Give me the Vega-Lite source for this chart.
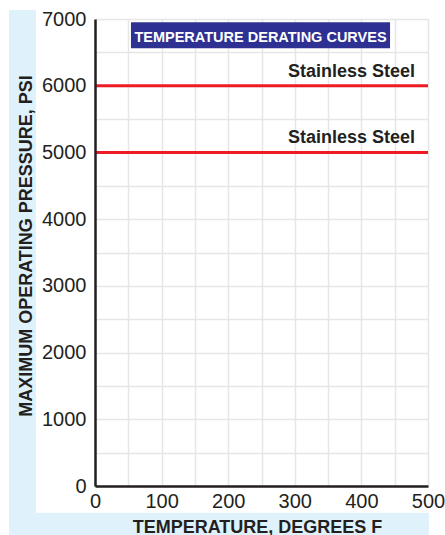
{
  "$schema": "https://vega.github.io/schema/vega-lite/v6.json",
  "width": 333,
  "height": 467,
  "autosize": "none",
  "padding": {"left": 95, "top": 19, "right": 17, "bottom": 49},
  "background": "white",
  "config": {
    "view": {"stroke": null},
    "font": "Liberation Sans",
    "axis": {
      "gridColor": "#e6e6e6", "gridWidth": 1.5,
      "ticks": false,
      "domainColor": "#231f20", "domainWidth": 2.5,
      "labelFontSize": 20, "labelColor": "#231f20",
      "labelFlush": false, "labelOverlap": false,
      "titleFontSize": 18, "titleFontWeight": "bold", "titleColor": "#231f20"
    }
  },
  "resolve": {"axis": {"x": "independent", "y": "independent"}},
  "layer": [
    {
      "data": {"values": [{}]},
      "mark": {"type": "rect", "color": "#dff2fb", "clip": false},
      "encoding": {
        "x": {"datum": -129.1, "type": "quantitative", "scale": {"domain": [0, 500], "nice": false, "zero": false},
          "axis": {"orient": "top", "zindex": 0, "grid": true, "labels": false, "domain": false, "ticks": false, "title": null, "values": [0, 50, 100, 150, 200, 250, 300, 350, 400, 450, 500]}},
        "x2": {"datum": -88.6},
        "y": {"datum": 7135, "type": "quantitative", "scale": {"domain": [0, 7000], "nice": false, "zero": false},
          "axis": {"orient": "right", "zindex": 0, "grid": true, "labels": false, "domain": false, "ticks": false, "title": null, "values": [0, 500, 1000, 1500, 2000, 2500, 3000, 3500, 4000, 4500, 5000, 5500, 6000, 6500, 7000]}},
        "y2": {"datum": -735}
      }
    },
    {
      "data": {"values": [{}]},
      "mark": {"type": "rect", "color": "#dff2fb", "clip": false},
      "encoding": {
        "x": {"datum": -129.1, "type": "quantitative", "scale": {"domain": [0, 500], "nice": false, "zero": false}, "axis": null},
        "x2": {"datum": 501.5},
        "y": {"datum": -400, "type": "quantitative", "scale": {"domain": [0, 7000], "nice": false, "zero": false}, "axis": null},
        "y2": {"datum": -735}
      }
    },
    {
      "data": {"values": [{}]},
      "mark": {"type": "rect", "color": "#2e3192"},
      "encoding": {
        "x": {"datum": 54, "type": "quantitative", "scale": {"domain": [0, 500], "nice": false, "zero": false}, "axis": null},
        "x2": {"datum": 443},
        "y": {"datum": 6950, "type": "quantitative", "scale": {"domain": [0, 7000], "nice": false, "zero": false}, "axis": null},
        "y2": {"datum": 6561}
      }
    },
    {
      "data": {"values": [{"title": "TEMPERATURE DERATING CURVES"}]},
      "mark": {"type": "text", "align": "center", "baseline": "alphabetic", "fontSize": 14.5, "fontWeight": "bold", "color": "white"},
      "encoding": {
        "x": {"datum": 248.5, "type": "quantitative", "scale": {"domain": [0, 500], "nice": false, "zero": false}, "axis": null},
        "y": {"datum": 6660, "type": "quantitative", "scale": {"domain": [0, 7000], "nice": false, "zero": false}, "axis": null},
        "text": {"field": "title"}
      }
    },
    {
      "data": {"values": [
        {"temp": 500, "psi": 6000, "label": "Stainless Steel"},
        {"temp": 500, "psi": 5000, "label": "Stainless Steel"}
      ]},
      "mark": {"type": "text", "align": "right", "baseline": "alphabetic", "dx": -13, "dy": -9, "fontSize": 18, "fontWeight": "bold", "color": "#231f20"},
      "encoding": {
        "x": {"field": "temp", "type": "quantitative", "scale": {"domain": [0, 500], "nice": false, "zero": false}, "axis": null},
        "y": {"field": "psi", "type": "quantitative", "scale": {"domain": [0, 7000], "nice": false, "zero": false}, "axis": null},
        "text": {"field": "label"}
      }
    },
    {
      "data": {"values": [
        {"temp": 0, "psi": 6000, "series": "upper"},
        {"temp": 500, "psi": 6000, "series": "upper"},
        {"temp": 0, "psi": 5000, "series": "lower"},
        {"temp": 500, "psi": 5000, "series": "lower"}
      ]},
      "mark": {"type": "line", "color": "#ed1c24", "strokeWidth": 3},
      "encoding": {
        "x": {"field": "temp", "type": "quantitative", "scale": {"domain": [0, 500], "nice": false, "zero": false},
          "axis": {"orient": "bottom", "zindex": 1, "grid": false, "title": "TEMPERATURE, DEGREES F", "values": [0, 100, 200, 300, 400, 500], "format": "d", "labelPadding": 5, "titleX": 162, "titleY": 46, "titleBaseline": "alphabetic"}},
        "y": {"field": "psi", "type": "quantitative", "scale": {"domain": [0, 7000], "nice": false, "zero": false},
          "axis": {"orient": "left", "zindex": 1, "grid": false, "title": "MAXIMUM OPERATING PRESSURE, PSI", "values": [0, 1000, 2000, 3000, 4000, 5000, 6000, 7000], "format": "d", "labelPadding": 9, "titleX": -64, "titleY": 226.5, "titleAngle": -90, "titleBaseline": "alphabetic"}},
        "detail": {"field": "series"}
      }
    }
  ]
}
